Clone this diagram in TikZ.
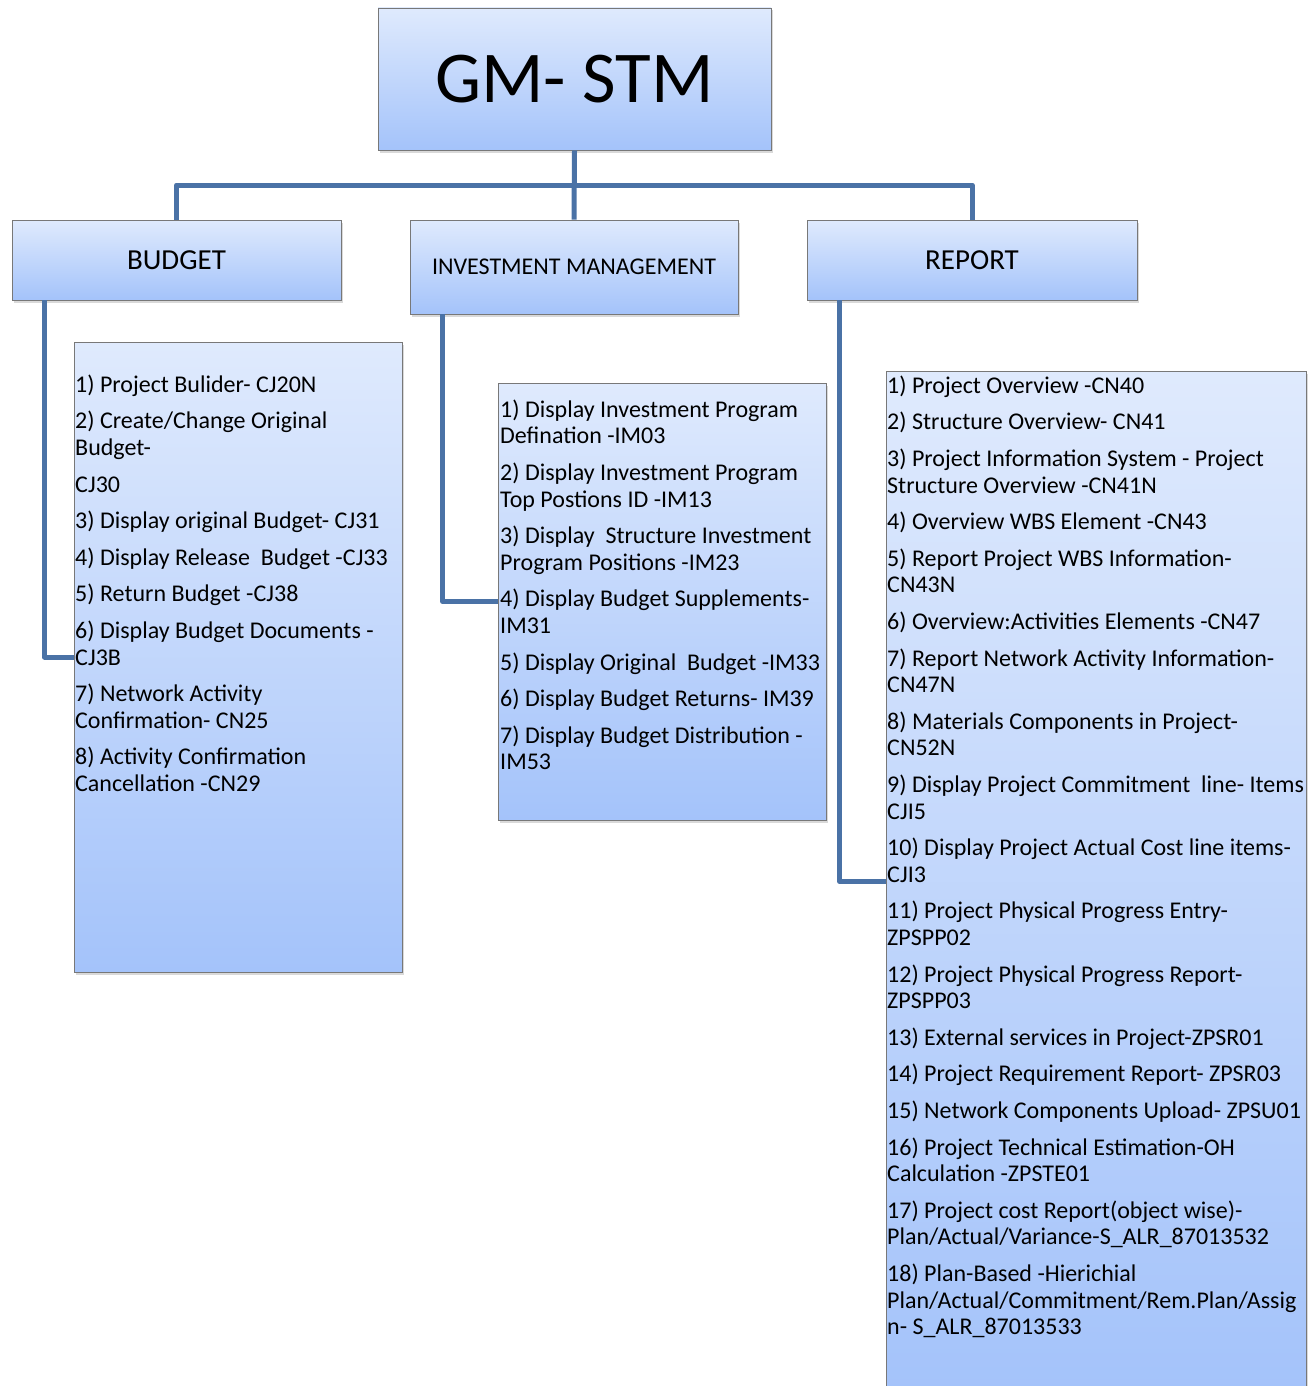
\documentclass[tikz,border=0pt]{standalone}
\usepackage{fontspec}
\setmainfont{Carlito}
\usetikzlibrary{shadows}
\definecolor{linkc}{RGB}{74,114,166}
\definecolor{boxtop}{RGB}{223,234,253}
\definecolor{boxbot}{RGB}{164,195,250}
\definecolor{boxline}{RGB}{120,120,120}
\tikzset{
  gbox/.style={rectangle, draw=boxline, line width=0.8pt, top color=boxtop, bottom color=boxbot, inner sep=0pt,
    drop shadow={shadow xshift=2pt, shadow yshift=-2.5pt, opacity=0.3}},
  link/.style={draw=linkc, line width=5pt, line join=round},
  listtext/.style={anchor=north west, inner sep=0pt, align=left, font=\fontsize{24pt}{26.6pt}\selectfont},
  headtext/.style={font=\fontsize{29pt}{34pt}\selectfont},
}
\begin{document}
\begin{tikzpicture}[x=1pt,y=-1pt]
\useasboundingbox (0,0) rectangle (1314,1386);
% header boxes
\node[gbox, minimum width=393pt, minimum height=142pt, font=\fontsize{73pt}{80pt}\selectfont] (top) at (574.5,79) {GM- STM};
\node[gbox, minimum width=329pt, minimum height=80pt, headtext] (budget) at (176.5,260) {BUDGET};
\node[gbox, minimum width=328pt, minimum height=94pt, font=\fontsize{24pt}{28pt}\selectfont] (invest) at (574,267) {INVESTMENT MANAGEMENT};
\node[gbox, minimum width=330pt, minimum height=80pt, headtext] (report) at (972,260) {REPORT};
% list boxes
\node[gbox, minimum width=328pt, minimum height=630pt] (blist) at (238,657) {};
\node[gbox, minimum width=328pt, minimum height=437pt] (ilist) at (662,601.5) {};
\node[gbox, minimum width=420pt, minimum height=1021pt] (rlist) at (1096,881.5) {};
% connectors
\coordinate (bus) at (574.5,185);
\draw[link] (budget.north) -- (budget.north |- bus) -- (report.north |- bus) -- (report.north);
\draw[link] (top.south) -- (invest.north);
\draw[link] (budget.south west) ++(33,0) |- (blist.west);
\draw[link] (invest.south west) ++(33,0) |- (ilist.west);
\draw[link] (report.south west) ++(33,0) |- (rlist.west);
% list texts
\node[listtext] (btext) at (75,373) {\rule{0pt}{19pt}1) Project Bulider- CJ20N\\[10pt]
2) Create/Change Original\\
Budget-\\[10pt]
CJ30\\[10pt]
3) Display original Budget- CJ31\\[10pt]
4) Display Release\ \ Budget -CJ33\\[10pt]
5) Return Budget -CJ38\\[10pt]
6) Display Budget Documents -\\
CJ3B\\[10pt]
7) Network Activity\\
Confirmation- CN25\\[10pt]
8) Activity Confirmation\\
Cancellation -CN29};
\node[listtext] (itext) at (500,398) {\rule{0pt}{19pt}1) Display Investment Program\\
Defination -IM03\\[10pt]
2) Display Investment Program\\
Top Postions ID -IM13\\[10pt]
3) Display\ \ Structure Investment\\
Program Positions -IM23\\[10pt]
4) Display Budget Supplements-\\
IM31\\[10pt]
5) Display Original\ \ Budget -IM33\\[10pt]
6) Display Budget Returns- IM39\\[10pt]
7) Display Budget Distribution -\\
IM53};
\node[listtext] (rtext) at (887,374) {\rule{0pt}{19pt}1) Project Overview -CN40\\[10pt]
2) Structure Overview- CN41\\[10pt]
3) Project Information System - Project\\
Structure Overview -CN41N\\[10pt]
4) Overview WBS Element -CN43\\[10pt]
5) Report Project WBS Information-\\
CN43N\\[10pt]
6) Overview:Activities Elements -CN47\\[10pt]
7) Report Network Activity Information-\\
CN47N\\[10pt]
8) Materials Components in Project-\\
CN52N\\[10pt]
9) Display Project Commitment\ \ line- Items\\
CJI5\\[10pt]
10) Display Project Actual Cost line items-\\
CJI3\\[10pt]
11) Project Physical Progress Entry-\\
ZPSPP02\\[10pt]
12) Project Physical Progress Report-\\
ZPSPP03\\[10pt]
13) External services in Project-ZPSR01\\[10pt]
14) Project Requirement Report- ZPSR03\\[10pt]
15) Network Components Upload- ZPSU01\\[10pt]
16) Project Technical Estimation-OH\\
Calculation -ZPSTE01\\[10pt]
17) Project cost Report(object wise)-\\
Plan/Actual/Variance-S\_ALR\_87013532\\[10pt]
18) Plan-Based -Hierichial\\
Plan/Actual/Commitment/Rem.Plan/Assig\\
n- S\_ALR\_87013533};
\end{tikzpicture}
\end{document}
